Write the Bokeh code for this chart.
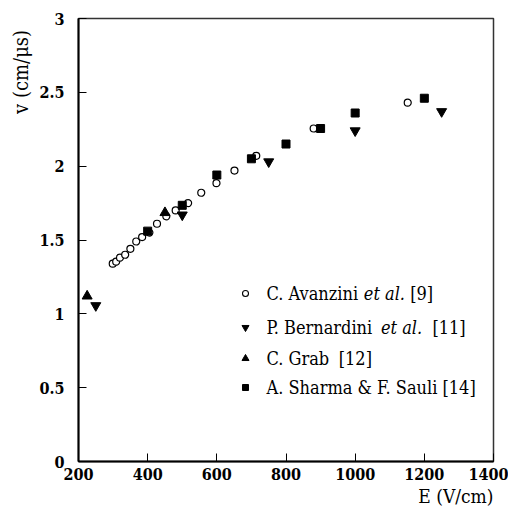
from bokeh.plotting import figure
from bokeh.models import Range1d, FixedTicker, Label, Title
from bokeh.embed import file_html
from bokeh.resources import INLINE

# ---- data ----
avanzini_E = [299, 309, 320, 335, 350, 367, 384, 405, 427, 454, 481, 517, 555, 599, 651, 714, 880, 1152]
avanzini_v = [1.34, 1.353, 1.38, 1.40, 1.44, 1.49, 1.52, 1.55, 1.61, 1.66, 1.70, 1.75, 1.82, 1.885, 1.97, 2.07, 2.255, 2.43]
bernardini_E = [250, 500, 750, 1000, 1250]
bernardini_v = [1.056, 1.67, 2.03, 2.24, 2.37]
grab_E = [225, 450]
grab_v = [1.12, 1.685]
sharma_E = [400, 500, 600, 700, 800, 900, 1000, 1200]
sharma_v = [1.56, 1.735, 1.94, 2.05, 2.15, 2.255, 2.36, 2.46]

x_ticks = [200, 400, 600, 800, 1000, 1200, 1400]
x_tick_labels = ["200", "400", "600", "800", "1000", "1200", "1400"]
y_ticks = [0, 0.5, 1, 1.5, 2, 2.5, 3]
y_tick_labels = ["0", "0.5", "1", "1.5", "2", "2.5", "3"]

legend_texts = [
    [("C. Avanzini ", "normal"), ("et al.", "italic"), (" [9]", "normal")],
    [("P. Bernardini ", "normal"), ("et al.", "italic"), ("  [11]", "normal")],
    [("C. Grab  ", "normal"), ("[12]", "normal")],
    [("A. Sharma & F. Sauli [14]", "normal")],
]

SERIF = "DejaVu Serif Condensed"
X0, X1, Y0, Y1 = 200, 1400, 0, 3

W_, H_ = 508, 508
FL, FR, FT, FB = 78, 493, 18, 461


def dx(px):
    return X0 + (px - FL) * (X1 - X0) / (FR - FL)


def dy(py):
    return Y0 + (FB - py) * (Y1 - Y0) / (FB - FT)


p = figure(width=W_, height=H_, output_backend="svg", toolbar_location=None,
           x_range=Range1d(X0, X1), y_range=Range1d(Y0, Y1),
           min_border_left=FL, min_border_right=W_ - FR,
           min_border_top=FT, min_border_bottom=H_ - FB)
p.grid.visible = False
p.background_fill_color = "white"
p.border_fill_color = "white"
p.outline_line_color = "#333333"
p.outline_line_width = 1.5

p.xaxis.ticker = FixedTicker(ticks=x_ticks)
p.yaxis.ticker = FixedTicker(ticks=y_ticks)
p.xaxis.major_label_overrides = dict(zip(x_ticks, x_tick_labels))
p.yaxis.major_label_overrides = dict(zip(y_ticks, y_tick_labels))
for ax in (p.xaxis, p.yaxis):
    ax.axis_line_width = 2
    ax.axis_line_color = "black"
    ax.major_tick_in = 8
    ax.major_tick_out = 0
    ax.major_tick_line_color = "black"
    ax.major_tick_line_width = 1
    ax.minor_tick_line_color = None
    ax.major_label_text_font = SERIF
    ax.major_label_text_font_style = "bold"
    ax.major_label_text_font_size = "16px"
    ax.major_label_text_color = "black"
p.xaxis.major_label_standoff = 6
p.yaxis.major_label_standoff = 14

p.add_layout(Title(text="E (V/cm)", align="right", text_font=SERIF, text_font_size="19px",
                   text_font_style="normal", text_color="black", standoff=0), "below")
p.add_layout(Title(text="v (cm/μs)\u00a0\u00a0", align="right", text_font=SERIF,
                   text_font_size="20px", text_font_style="normal", text_color="black",
                   standoff=8), "left")

p.scatter(avanzini_E, avanzini_v, marker="circle", size=7, fill_color="white",
          line_color="black", line_width=1.2)
p.scatter(bernardini_E, bernardini_v, marker="inverted_triangle", size=10,
          fill_color="black", line_color="black")
p.scatter(grab_E, grab_v, marker="triangle", size=10, fill_color="black", line_color="black")
p.scatter(sharma_E, sharma_v, marker="square", size=8, fill_color="black", line_color="black")

rows_py = [293, 327, 358, 387]
mk_px = 245
txt_px = 266
fs = 18
p.scatter([dx(mk_px)], [dy(rows_py[0])], marker="circle", size=6, fill_color="white",
          line_color="black", line_width=1.1)
p.scatter([dx(mk_px)], [dy(rows_py[1])], marker="inverted_triangle", size=7,
          fill_color="black", line_color="black")
p.scatter([dx(mk_px)], [dy(rows_py[2])], marker="triangle", size=7,
          fill_color="black", line_color="black")
p.scatter([dx(mk_px)], [dy(rows_py[3])], marker="square", size=6,
          fill_color="black", line_color="black")

# approximate DejaVu Serif advance widths (em/1000), condensed by 0.9
WN = {" ": 318, ".": 318, "C": 698, "A": 722, "v": 592, "a": 596, "n": 640, "z": 525,
      "i": 320, "P": 673, "B": 731, "e": 592, "r": 478, "d": 640, "G": 775, "b": 640,
      "[": 390, "]": 390}
WI = {"e": 592, "t": 402, " ": 318, "a": 596, "l": 320, ".": 318}


def width(s, style):
    tbl = WI if style == "italic" else WN
    return sum(tbl.get(c, 600) for c in s) / 1000.0 * fs * 0.9


for segs, py in zip(legend_texts, rows_py):
    x = txt_px
    for seg, style in segs:
        lead = len(seg) - len(seg.lstrip(" "))
        x_start = x + width(" " * lead, style)
        p.add_layout(Label(x=dx(x_start), y=dy(py), text=seg.strip(" "), text_font=SERIF,
                           text_font_size=f"{fs}px", text_font_style=style,
                           text_align="left", text_baseline="middle", text_color="black"))
        x += width(seg, style)

open("out.html", "w").write(file_html(p, INLINE))
